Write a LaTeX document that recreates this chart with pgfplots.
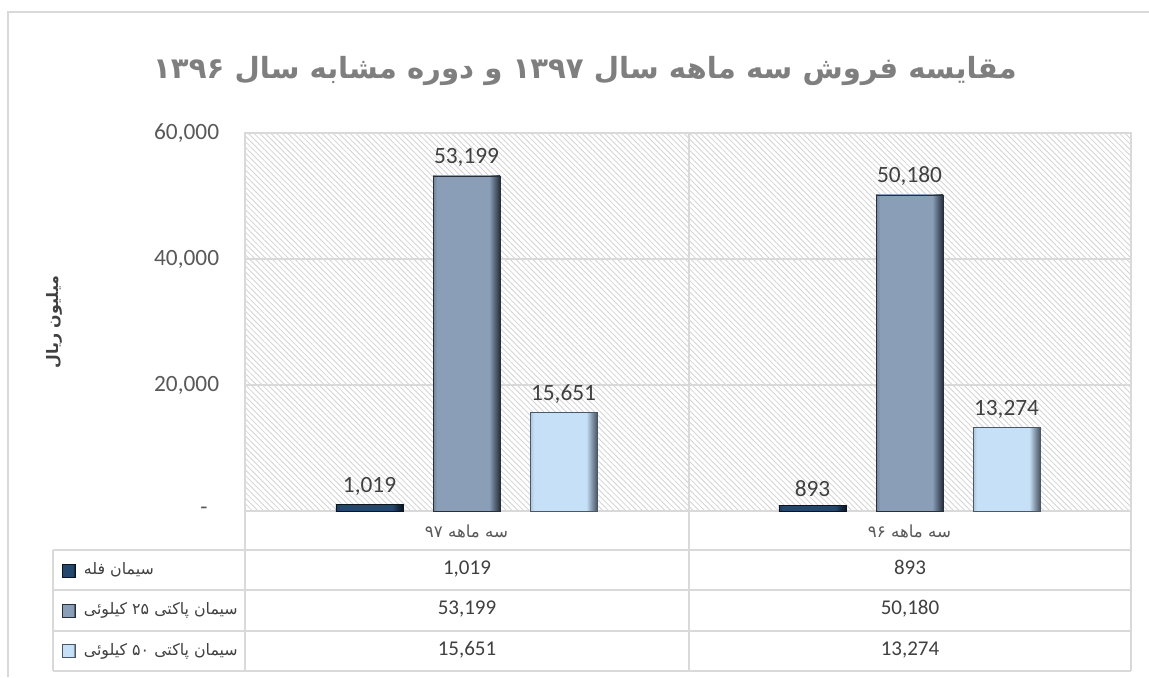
\documentclass[border=0pt]{standalone}
\usepackage{pgfplots}
\pgfplotsset{compat=1.18}
\usepackage{pgfplotstable}
\usetikzlibrary{patterns.meta}
\usepackage{fontspec}
\setmainfont{Carlito}
\newfontfamily\fa[Script=Arabic]{DejaVu Sans}
\TeXXeTstate=1

\definecolor{gridc}{HTML}{D9D9D9}
\definecolor{txt}{HTML}{404040}
\definecolor{tickc}{HTML}{595959}
\definecolor{ttl}{HTML}{7F7F7F}
\definecolor{ca}{HTML}{24476E}\definecolor{cal}{HTML}{1C3A5C}\definecolor{cam}{HTML}{152B44}\definecolor{cad}{HTML}{0A1522}
\definecolor{cb}{HTML}{8A9EB7}\definecolor{cbl}{HTML}{70849E}\definecolor{cbm}{HTML}{56667A}\definecolor{cbd}{HTML}{262F3A}
\definecolor{cc}{HTML}{C6E0F7}\definecolor{ccl}{HTML}{A9C3DB}\definecolor{ccm}{HTML}{8699AC}\definecolor{ccd}{HTML}{4A5766}

\pgfdeclarehorizontalshading{shA}{100bp}{color(0bp)=(cal); color(25bp)=(cal); color(28bp)=(ca); color(67bp)=(ca); color(71bp)=(cam); color(75bp)=(cad); color(100bp)=(cad)}
\pgfdeclarehorizontalshading{shB}{100bp}{color(0bp)=(cbl); color(25bp)=(cbl); color(28bp)=(cb); color(67bp)=(cb); color(71bp)=(cbm); color(75bp)=(cbd); color(100bp)=(cbd)}
\pgfdeclarehorizontalshading{shC}{100bp}{color(0bp)=(ccl); color(25bp)=(ccl); color(28bp)=(cc); color(67bp)=(cc); color(71bp)=(ccm); color(75bp)=(ccd); color(100bp)=(ccd)}

\pgfkeys{/pgf/number format/.cd, fixed, precision=0, 1000 sep={,}, assume math mode=true}

\pgfplotstableread{
x a b c
0 1019 53199 15651
1 893 50180 13274
}\data

\newcommand\tcell[4]{\pgfplotstablegetelem{#1}{#2}\of\data
  \node[font=\fontsize{12.6}{15}\selectfont,text=txt,text height=1.4ex,text depth=0.3ex] at (#3,#4) {\pgfmathprintnumber{\pgfplotsretval}};}

\begin{document}
\begin{tikzpicture}
\begin{scope}[x=0.6pt,y=-0.6pt]
\path[use as bounding box] (0,0) rectangle (1149,677);
\fill[white] (0,0) rectangle (1149,677);
\draw[gridc, line width=1pt] (8,677) -- (8,12) -- (1149,12);
\node[font={\fa\bfseries\fontsize{17.5}{21}\selectfont}, text=ttl] at (585,71) {\beginR مقایسه فروش سه ماهه سال ۱۳۹۷ و دوره مشابه سال ۱۳۹۶\endR};
\node[rotate=90, font={\fa\bfseries\fontsize{9.5}{11}\selectfont}, text=txt] at (54,322) {\beginR میلیون ریال\endR};
\end{scope}

\begin{axis}[
  at={(147pt,-306.6pt)}, anchor=south west,
  width=531.6pt, height=226.8pt, scale only axis,
  xmin=-0.5, xmax=1.5, ymin=0, ymax=60000,
  ybar=18pt, bar width=40.2pt,
  xtick={0,1},
  xticklabels={{\fa\beginR سه ماهه ۹۷\endR},{\fa\beginR سه ماهه ۹۶\endR}},
  xticklabel style={anchor=center, yshift=-12pt, font=\fontsize{10}{12}\selectfont, text=tickc},
  ytick={0,20000,40000,60000},
  yticklabels={{-\kern7pt},{20,000},{40,000},{60,000}},
  scaled y ticks=false,
  yticklabel style={font=\fontsize{14}{16}\selectfont, text=tickc, xshift=-12pt},
  major tick length=0pt,
  ymajorgrids, grid style={gridc, line width=1pt},
  axis line style={gridc, line width=1pt},
  axis background/.style={pattern={Lines[angle=-45,distance=2.4pt,line width=0.5pt]}, pattern color=black!17},
  clip=false,
  nodes near coords,
  nodes near coords style={font=\fontsize{14}{16}\selectfont, text=txt, yshift=2pt},
]
% series a
\addplot[bar shift=-58.2pt, shade, shading=shA, draw=cad, line width=0.3pt] table[x=x,y=a, skip coords between index={1}{2}] {\data};
\addplot[bar shift=-58.2pt, shade, shading=shA, draw=cad, line width=0.3pt] table[x=x,y=a, skip coords between index={0}{1}] {\data};
% series b
\addplot[bar shift=0pt, shade, shading=shB, draw=cbd, line width=0.3pt] table[x=x,y=b, skip coords between index={1}{2}] {\data};
\addplot[bar shift=0pt, shade, shading=shB, draw=cbd, line width=0.3pt] table[x=x,y=b, skip coords between index={0}{1}] {\data};
% series c
\addplot[bar shift=58.2pt, shade, shading=shC, draw=ccd, line width=0.3pt] table[x=x,y=c, skip coords between index={1}{2}] {\data};
\addplot[bar shift=58.2pt, shade, shading=shC, draw=ccd, line width=0.3pt] table[x=x,y=c, skip coords between index={0}{1}] {\data};
\end{axis}

\begin{scope}[x=0.6pt,y=-0.6pt]
\draw[gridc, line width=1pt] (689,133) -- (689,671);
\draw[gridc, line width=1pt] (245,511) -- (245,671);
\draw[gridc, line width=1pt] (1131,511) -- (1131,671);
\draw[gridc, line width=1pt] (53,550) -- (53,671);
\foreach \yy in {550,590,631,671} {\draw[gridc, line width=1pt] (53,\yy) -- (1131,\yy);}
\tcell{0}{a}{467}{570}
\tcell{1}{a}{910}{570}
\tcell{0}{b}{467}{610.5}
\tcell{1}{b}{910}{610.5}
\tcell{0}{c}{467}{651}
\tcell{1}{c}{910}{651}
\path[shade, shading=shA, draw=cad, line width=0.3pt] (62,564) rectangle (75,577);
\path[shade, shading=shB, draw=cbd, line width=0.3pt] (62,604) rectangle (75,617);
\path[shade, shading=shC, draw=ccd, line width=0.3pt] (62,644.5) rectangle (75,657.5);
\node[anchor=west, font={\fa\fontsize{9.5}{11}\selectfont}, text=txt] at (78,570) {\beginR سیمان فله\endR};
\node[anchor=west, font={\fa\fontsize{9.5}{11}\selectfont}, text=txt] at (78,610.5) {\beginR سیمان پاکتی ۲۵ کیلوئی\endR};
\node[anchor=west, font={\fa\fontsize{9.5}{11}\selectfont}, text=txt] at (78,651) {\beginR سیمان پاکتی ۵۰ کیلوئی\endR};
\end{scope}
\end{tikzpicture}
\end{document}
